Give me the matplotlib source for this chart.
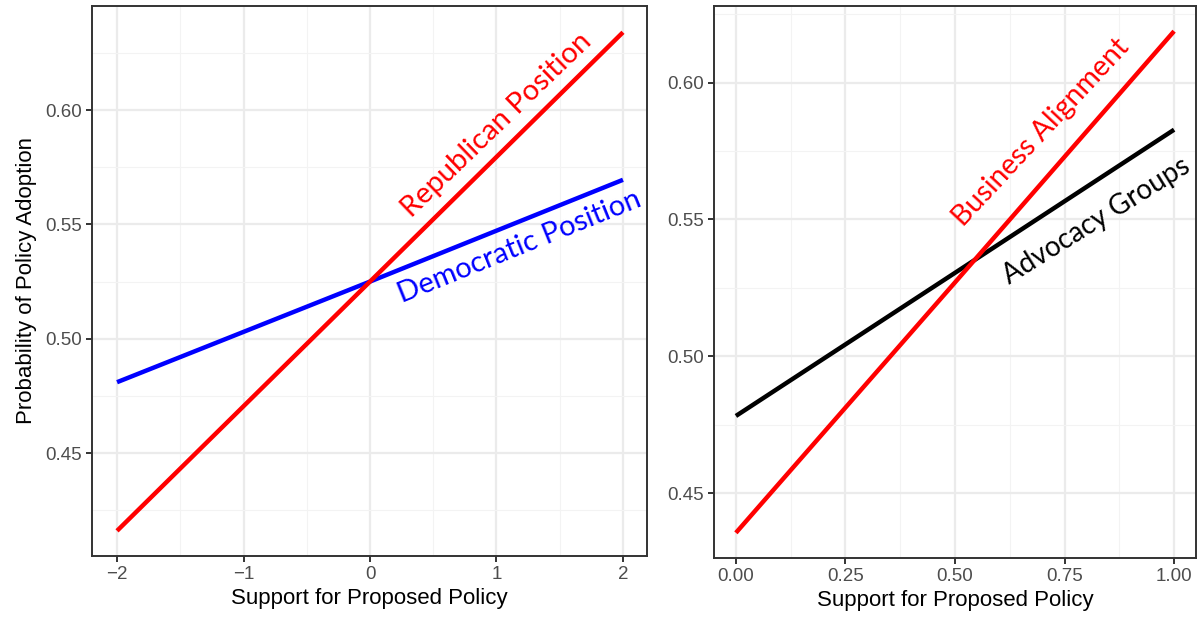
import matplotlib.pyplot as plt
import numpy as np

# left panel: party position
party_x = [-2, 0, 2]
republican_y = [0.416, 0.525, 0.634]
democratic_y = [0.481, 0.525, 0.5695]

# right panel: interest groups
group_x = [0.0, 0.5, 1.0]
business_y = [0.4355, 0.527, 0.6188]
advocacy_y = [0.4782, 0.5305, 0.5828]

left_xticks = [-2, -1, 0, 1, 2]
left_yticks = [0.45, 0.50, 0.55, 0.60]
right_xticks = [0.0, 0.25, 0.50, 0.75, 1.0]
right_yticks = [0.45, 0.50, 0.55, 0.60]

plt.rcParams['font.family'] = ['Liberation Sans', 'DejaVu Sans']
label_font = ['Lato', 'DejaVu Sans']


def bw_axes(ax, xticks, yticks, xfmt, yfmt, xlim, ylim):
    ax.set_facecolor('white')
    for s in ax.spines.values():
        s.set_color('#333333')
        s.set_linewidth(1.4)
    ax.set_xticks(xticks)
    ax.set_yticks(yticks)
    ax.set_xticklabels([xfmt(v) for v in xticks])
    ax.set_yticklabels([yfmt(v) for v in yticks])
    # minor gridlines halfway between majors
    xt = np.array(xticks, dtype=float)
    yt = np.array(yticks, dtype=float)
    dx = xt[1] - xt[0]
    dy = yt[1] - yt[0]
    ax.set_xticks(np.arange(xt[0] - dx / 2, xt[-1] + dx, dx), minor=True)
    ax.set_yticks(np.arange(yt[0] - dy / 2, yt[-1] + dy, dy), minor=True)
    ax.set_xlim(*xlim)
    ax.set_ylim(*ylim)
    ax.grid(which='major', color='#EBEBEB', linewidth=1.6, zorder=0)
    ax.grid(which='minor', color='#F3F3F3', linewidth=0.8, zorder=0)
    ax.tick_params(which='minor', length=0)
    ax.tick_params(which='major', length=4, width=1.4, color='#333333',
                   labelsize=13.5, labelcolor='#4D4D4D', pad=3)
    ax.set_axisbelow(True)


fig = plt.figure(figsize=(12, 6.2), dpi=100)
ax1 = fig.add_axes([92 / 1200, 1 - 556 / 620, (647 - 92) / 1200, (556 - 6) / 620])
ax2 = fig.add_axes([714 / 1200, 1 - 558 / 620, (1196 - 714) / 1200, (558 - 6) / 620])

# left
ax1.plot(party_x, democratic_y, color='#0000FF', linewidth=3.2, solid_capstyle='butt')
ax1.plot(party_x, republican_y, color='#FF0000', linewidth=3.2, solid_capstyle='butt')
bw_axes(ax1, left_xticks, left_yticks, lambda v: '%d' % v if v >= 0 else '\u2212%d' % -v,
        lambda v: '%.2f' % v, (-2.198, 2.19), (0.405, 0.6455))
ax1.set_xlabel('Support for Proposed Policy', fontsize=16, labelpad=4)
ax1.set_ylabel('Probability of Policy Adoption', fontsize=16, labelpad=6)
ax1.text(0.33, 0.5525, 'Republican Position', color='#FF0000', rotation=44,
         rotation_mode='anchor', ha='left', va='baseline', fontsize=21, family=label_font)
ax1.text(0.25, 0.5155, 'Democratic Position', color='#0000FF', rotation=22,
         rotation_mode='anchor', ha='left', va='baseline', fontsize=21, family=label_font)

# right
ax2.plot(group_x, advocacy_y, color='black', linewidth=3.2, solid_capstyle='butt')
ax2.plot(group_x, business_y, color='#FF0000', linewidth=3.2, solid_capstyle='butt')
bw_axes(ax2, right_xticks, right_yticks, lambda v: '%.2f' % v, lambda v: '%.2f' % v,
        (-0.05, 1.05), (0.4263, 0.628))
ax2.set_xlabel('Support for Proposed Policy', fontsize=16, labelpad=4)
ax2.text(0.52, 0.547, 'Business Alignment', color='#FF0000', rotation=47,
         rotation_mode='anchor', ha='left', va='baseline', fontsize=20.5, family=label_font)
ax2.text(0.625, 0.5262, 'Advocacy Groups', color='black', rotation=32,
         rotation_mode='anchor', ha='left', va='baseline', fontsize=20, family=label_font)

fig.savefig('out.png', dpi=100)
